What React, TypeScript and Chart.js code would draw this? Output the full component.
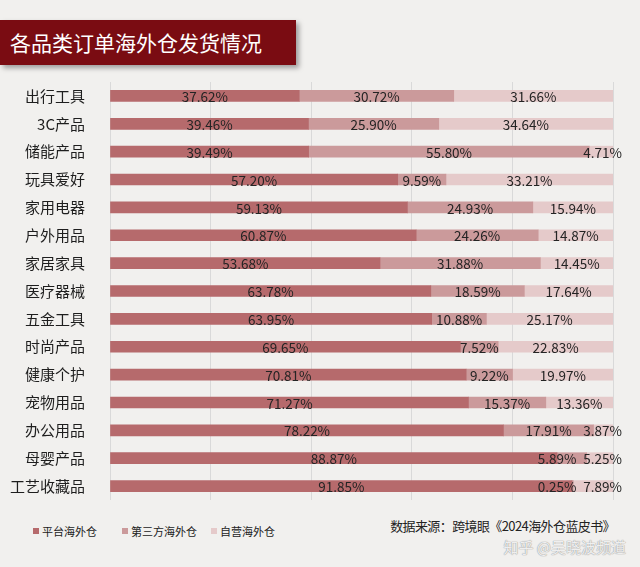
import React, { useEffect, useRef } from "react";
import { Chart, registerables } from "chart.js";

Chart.register(...registerables);

const categories = [
  "出行工具", "3C产品", "储能产品", "玩具爱好", "家用电器", "户外用品", "家居家具",
  "医疗器械", "五金工具", "时尚产品", "健康个护", "宠物用品", "办公用品", "母婴产品", "工艺收藏品",
];
const platformWarehouse = [37.62, 39.46, 39.49, 57.2, 59.13, 60.87, 53.68, 63.78, 63.95, 69.65, 70.81, 71.27, 78.22, 88.87, 91.85];
const thirdPartyWarehouse = [30.72, 25.9, 55.8, 9.59, 24.93, 24.26, 31.88, 18.59, 10.88, 7.52, 9.22, 15.37, 17.91, 5.89, 0.25];
const selfWarehouse = [31.66, 34.64, 4.71, 33.21, 15.94, 14.87, 14.45, 17.64, 25.17, 22.83, 19.97, 13.36, 3.87, 5.25, 7.89];
const seriesNames = ["平台海外仓", "第三方海外仓", "自营海外仓"];
const seriesColors = ["#b66a6c", "#cb9a9b", "#e5caca"];
const xTicks = [0, 20, 40, 60, 80, 100];

const FONT = "'Noto Sans CJK SC', 'Noto Sans', sans-serif";

const labelPlugin = {
  id: "segLabels",
  afterDatasetsDraw(chart: any) {
    const ctx = chart.ctx;
    const area = chart.chartArea;
    ctx.save();
    ctx.font = `13.5px ${FONT}`;
    ctx.fillStyle = "#242424";
    ctx.textBaseline = "middle";
    ctx.textAlign = "center";
    const n = chart.data.labels.length;
    const dsCount = chart.data.datasets.length;
    for (let i = 0; i < n; i++) {
      let nextLeft = Infinity;
      for (let d = dsCount - 1; d >= 0; d--) {
        const meta = chart.getDatasetMeta(d);
        const el: any = meta.data[i];
        const v = chart.data.datasets[d].data[i];
        const txt = `${v.toFixed(2)}%`;
        const w = ctx.measureText(txt).width;
        const x1 = Math.min(el.base, el.x);
        const x2 = Math.max(el.base, el.x);
        let cx = (x1 + x2) / 2;
        if (d === dsCount - 1 && x2 - x1 < w + 4) {
          cx = area.right + 9 - w / 2;
        }
        if (cx + w / 2 > nextLeft - 7) cx = nextLeft - 7 - w / 2;
        ctx.fillText(txt, cx, el.y + 1);
        nextLeft = cx - w / 2;
      }
    }
    ctx.restore();
  },
};

function BarChart() {
  const ref = useRef<HTMLCanvasElement | null>(null);
  useEffect(() => {
    if (!ref.current) return;
    const data = [platformWarehouse, thirdPartyWarehouse, selfWarehouse];
    const chart = new Chart(ref.current, {
      type: "bar",
      data: {
        labels: categories,
        datasets: data.map((arr, k) => ({
          label: seriesNames[k],
          data: arr,
          backgroundColor: seriesColors[k],
          borderWidth: 0,
          barThickness: 11,
        })),
      },
      options: {
        indexAxis: "y",
        animation: false,
        responsive: true,
        maintainAspectRatio: false,
        layout: { padding: { left: 0, right: 27, top: 0, bottom: 0 } },
        plugins: { legend: { display: false }, tooltip: { enabled: false } },
        scales: {
          x: {
            stacked: true,
            min: 0,
            max: 100,
            afterBuildTicks: (scale: any) => {
              scale.ticks = xTicks.map((v) => ({ value: v }));
            },
            ticks: { display: false },
            border: { display: false },
            grid: { color: "#d9d9d9", lineWidth: 1, drawTicks: false },
          },
          y: {
            stacked: true,
            afterFit: (scale: any) => {
              scale.width = 110;
              scale.paddingTop = 0;
              scale.paddingBottom = 0;
            },
            ticks: {
              color: "#1e1e1e",
              font: { family: FONT, size: 15 },
              padding: 17,
            },
            border: { display: false },
            grid: { display: false },
          },
        },
      },
      plugins: [labelPlugin],
    } as any);
    return () => chart.destroy();
  }, []);
  return <canvas ref={ref} />;
}

export default function App() {
  const legendX = [33, 122, 211];
  return (
    <div
      style={{
        position: "fixed",
        left: 0,
        top: 0,
        width: 640,
        height: 567,
        background: "#f1f0ee",
        overflow: "hidden",
        fontFamily: FONT,
      }}
    >
      <div
        style={{
          position: "absolute",
          left: 0,
          top: 20,
          width: 296,
          height: 45,
          background: "#7a0c12",
          boxShadow: "3px 3px 5px rgba(0,0,0,0.35)",
          color: "#fff",
          fontSize: 21,
          lineHeight: "45px",
          paddingLeft: 10,
          boxSizing: "border-box",
          whiteSpace: "nowrap",
        }}
      >
        各品类订单海外仓发货情况
      </div>
      <div style={{ position: "absolute", left: 0, top: 82, width: 640, height: 418 }}>
        <BarChart />
      </div>
      {seriesNames.map((name, k) => (
        <div
          key={name}
          style={{
            position: "absolute",
            left: legendX[k],
            top: 523,
            height: 16,
            display: "flex",
            alignItems: "center",
            fontSize: 11,
            color: "#222",
            whiteSpace: "nowrap",
          }}
        >
          <span
            style={{
              display: "inline-block",
              width: 6,
              height: 6,
              background: seriesColors[k],
              marginRight: 3,
            }}
          />
          {name}
        </div>
      ))}
      <div
        style={{
          position: "absolute",
          right: 25,
          top: 516,
          fontSize: 13,
          color: "#222",
          whiteSpace: "nowrap",
          letterSpacing: -0.6,
        }}
      >
        数据来源：跨境眼《2024海外仓蓝皮书》
      </div>
      <div
        style={{
          position: "absolute",
          right: 14,
          top: 536,
          fontSize: 15,
          color: "rgba(255,255,255,0.85)",
          whiteSpace: "nowrap",
          textShadow: "0 0 1px #999, 0 0 1px #999",
        }}
      >
        知乎 @吴晓波频道
      </div>
    </div>
  );
}
